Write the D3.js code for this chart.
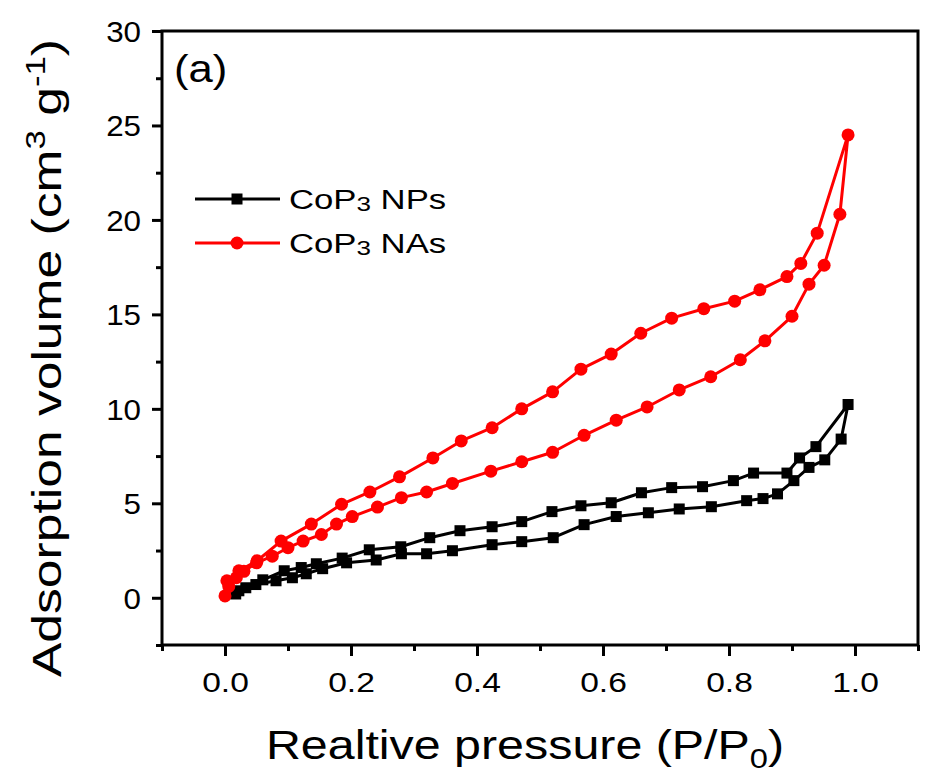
<!DOCTYPE html>
<html>
<head>
<meta charset="utf-8">
<script src="https://cdn.jsdelivr.net/npm/d3@7"></script>
<style>
  body { margin: 0; background: #fff; }
  text { font-family: "Liberation Sans", Arial, sans-serif; fill: #000; }
</style>
</head>
<body>
<div id="vis"></div>
<script>
// frame constants
const FRAME_WIDTH = 933;
const FRAME_HEIGHT = 780;
const MARGINS = {left: 162, right: 15, top: 31, bottom: 135};
const VIS_WIDTH = FRAME_WIDTH - MARGINS.left - MARGINS.right;
const VIS_HEIGHT = FRAME_HEIGHT - MARGINS.top - MARGINS.bottom;

// CoP3 NPs (black squares) - adsorption branch then desorption branch
const npsAdsX = [0.017, 0.022, 0.033, 0.049, 0.081, 0.107, 0.129, 0.155, 0.193, 0.24, 0.28, 0.32, 0.361, 0.424, 0.471, 0.521, 0.57, 0.621, 0.672, 0.721, 0.772, 0.828, 0.854, 0.877, 0.903, 0.927, 0.952, 0.978, 0.989];
const npsAdsY = [0.2, 0.37, 0.53, 0.7, 0.9, 1.06, 1.27, 1.54, 1.85, 2.0, 2.33, 2.33, 2.49, 2.81, 2.97, 3.18, 3.87, 4.3, 4.5, 4.7, 4.82, 5.14, 5.25, 5.5, 6.2, 6.9, 7.3, 8.4, 10.23];
const npsDesX = [0.989, 0.938, 0.912, 0.892, 0.839, 0.807, 0.758, 0.709, 0.661, 0.613, 0.565, 0.519, 0.471, 0.424, 0.373, 0.325, 0.279, 0.229, 0.186, 0.145, 0.121, 0.094, 0.06];
const npsDesY = [10.23, 8.0, 7.4, 6.6, 6.6, 6.2, 5.88, 5.83, 5.56, 5.03, 4.87, 4.56, 4.03, 3.76, 3.55, 3.18, 2.7, 2.54, 2.1, 1.8, 1.6, 1.43, 0.95];

// CoP3 NAs (red circles)
const nasAdsX = [0.0, 0.006, 0.018, 0.03, 0.05, 0.075, 0.1, 0.124, 0.153, 0.177, 0.202, 0.242, 0.28, 0.32, 0.361, 0.422, 0.471, 0.52, 0.57, 0.621, 0.67, 0.721, 0.771, 0.818, 0.857, 0.9, 0.927, 0.951, 0.976, 0.989];
const nasAdsY = [0.1, 0.6, 1.06, 1.4, 1.85, 2.2, 2.65, 3.0, 3.35, 3.9, 4.3, 4.8, 5.3, 5.6, 6.05, 6.7, 7.2, 7.7, 8.6, 9.4, 10.1, 11.0, 11.7, 12.6, 13.6, 14.9, 16.6, 17.6, 20.3, 24.5];
const nasDesX = [0.989, 0.94, 0.914, 0.892, 0.849, 0.809, 0.76, 0.709, 0.66, 0.613, 0.565, 0.52, 0.471, 0.424, 0.375, 0.33, 0.277, 0.23, 0.185, 0.137, 0.089, 0.051, 0.022, 0.003];
const nasDesY = [24.5, 19.3, 17.7, 17.0, 16.3, 15.7, 15.3, 14.8, 14.0, 12.9, 12.1, 10.9, 10.0, 9.0, 8.3, 7.4, 6.4, 5.6, 4.95, 3.9, 3.0, 1.96, 1.43, 0.9];

const xTicks = [0.0, 0.2, 0.4, 0.6, 0.8, 1.0];
const xMinor = [-0.1, 0.1, 0.3, 0.5, 0.7, 0.9, 1.1];
const yTicks = [0, 5, 10, 15, 20, 25, 30];
const yMinor = [-2.5, 2.5, 7.5, 12.5, 17.5, 22.5, 27.5];

const zip = (xs, ys) => xs.map((x, i) => ({x: x, y: ys[i]}));

const series = [
  {name: "NPs", color: "#000", shape: "square", data: zip(npsAdsX, npsAdsY).concat(zip(npsDesX, npsDesY).slice(1))},
  {name: "NAs", color: "#ff0000", shape: "circle", data: zip(nasAdsX, nasAdsY).concat(zip(nasDesX, nasDesY).slice(1))}
];

const FRAME = d3.select("#vis")
  .append("svg")
    .attr("width", FRAME_WIDTH)
    .attr("height", FRAME_HEIGHT);

const X_SCALE = d3.scaleLinear().domain([-0.1, 1.1]).range([0, VIS_WIDTH]);
const Y_SCALE = d3.scaleLinear().domain([-2.5, 30]).range([VIS_HEIGHT, 0]);

const G = FRAME.append("g")
  .attr("transform", "translate(" + MARGINS.left + "," + MARGINS.top + ")");

// axes: major ticks with labels, minor ticks without
G.append("g")
  .attr("transform", "translate(0," + VIS_HEIGHT + ")")
  .call(d3.axisBottom(X_SCALE).tickValues(xTicks).tickSize(11).tickPadding(16)
        .tickFormat(d3.format(".1f")))
  .call(g => g.selectAll("text").attr("font-size", "28px")
        .attr("transform", "scale(1.2,1)"));
G.append("g")
  .attr("transform", "translate(0," + VIS_HEIGHT + ")")
  .call(d3.axisBottom(X_SCALE).tickValues(xMinor).tickSize(6).tickFormat(""));
G.append("g")
  .call(d3.axisLeft(Y_SCALE).tickValues(yTicks).tickSize(10).tickPadding(11))
  .call(g => g.selectAll("text").attr("font-size", "29px").attr("dy", "0.36em")
        .attr("x", -21 / 1.08).attr("transform", "scale(1.08,1)"));
G.append("g")
  .call(d3.axisLeft(Y_SCALE).tickValues(yMinor).tickSize(6).tickFormat(""));

G.selectAll(".domain").remove();
G.selectAll(".tick line").attr("stroke", "#000").attr("stroke-width", 3);
G.selectAll(".tick text").attr("font-family", "Liberation Sans, Arial, sans-serif").attr("fill", "#000");

// frame box
G.append("rect")
  .attr("x", 0).attr("y", 0)
  .attr("width", VIS_WIDTH).attr("height", VIS_HEIGHT)
  .attr("fill", "none").attr("stroke", "#000").attr("stroke-width", 3);

const line = d3.line().x(d => X_SCALE(d.x)).y(d => Y_SCALE(d.y));

function drawMarker(sel, shape, color) {
  if (shape === "square") {
    sel.append("rect")
      .attr("x", -5.5).attr("y", -5.5).attr("width", 11).attr("height", 11)
      .attr("fill", color);
  } else {
    sel.append("circle").attr("r", 6.5).attr("fill", color);
  }
}

series.forEach(s => {
  G.append("path")
    .datum(s.data)
    .attr("d", line)
    .attr("fill", "none")
    .attr("stroke", s.color)
    .attr("stroke-width", 3)
    .attr("stroke-linejoin", "round");
  G.selectAll(".pt-" + s.name)
    .data(s.data)
    .enter()
    .append("g")
      .attr("class", "pt-" + s.name)
      .attr("transform", d => "translate(" + X_SCALE(d.x) + "," + Y_SCALE(d.y) + ")")
      .each(function() { drawMarker(d3.select(this), s.shape, s.color); });
});

// legend
const legend = FRAME.append("g");
series.forEach((s, i) => {
  const ly = 199 + i * 44;
  legend.append("line")
    .attr("x1", 195).attr("x2", 280).attr("y1", ly).attr("y2", ly)
    .attr("stroke", s.color).attr("stroke-width", 3);
  drawMarker(legend.append("g").attr("transform", "translate(237," + ly + ")"), s.shape, s.color);
  const t = legend.append("text")
    .attr("transform", "translate(289," + (ly + 9.5) + ") scale(1.24,1)")
    .attr("font-size", "28px");
  t.append("tspan").text("CoP");
  t.append("tspan").attr("font-size", "21px").attr("dy", 2).text("3");
  t.append("tspan").attr("dy", -2).text(" " + s.name);
});

// panel label
FRAME.append("text")
  .attr("transform", "translate(174,82) scale(1.15,1)")
  .attr("font-size", "38px")
  .text("(a)");

// x axis title
const xt = FRAME.append("text")
  .attr("transform", "translate(525,759) scale(1.21,1)")
  .attr("text-anchor", "middle")
  .attr("font-size", "40px");
xt.append("tspan").text("Realtive pressure (P/P");
xt.append("tspan").attr("font-size", "27px").attr("dy", 9).text("0");
xt.append("tspan").attr("dy", -9).text(")");

// y axis title
const yt = FRAME.append("text")
  .attr("transform", "translate(61,358) rotate(-90) scale(1.29,1)")
  .attr("text-anchor", "middle")
  .attr("font-size", "40px");
yt.append("tspan").text("Adsorption volume (cm");
yt.append("tspan").attr("font-size", "27px").attr("dy", -16).text("3");
yt.append("tspan").attr("dy", 16).text(" g");
yt.append("tspan").attr("font-size", "27px").attr("dy", -16).text("-1");
yt.append("tspan").attr("dy", 16).text(")");
</script>
</body>
</html>
